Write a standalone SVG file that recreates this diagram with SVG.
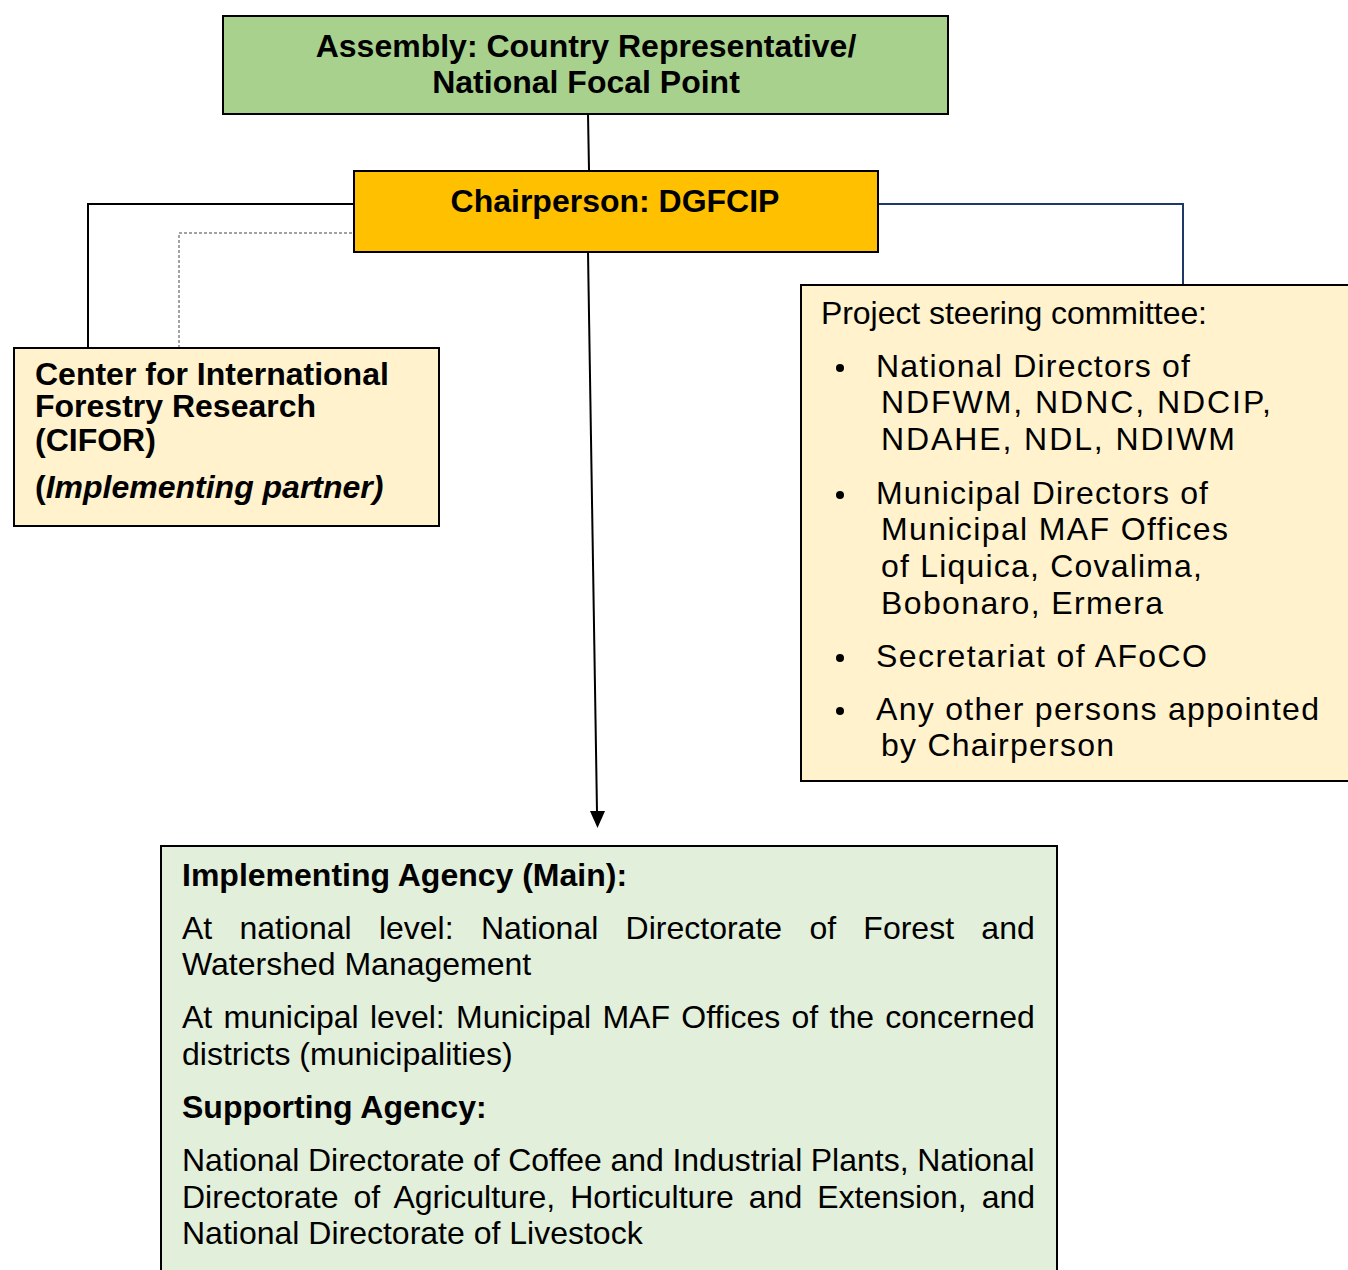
<svg xmlns="http://www.w3.org/2000/svg" width="1348" height="1270" viewBox="0 0 1348 1270">
<defs>
<style>
.box{stroke:#000;stroke-width:2}
.t{font-family:"Liberation Sans",Arial,sans-serif;font-size:32px;fill:#000}
.b{font-weight:bold}
.ln{fill:none;stroke:#000;stroke-width:2}
.bul{fill:#000}
</style>
</defs>
<rect width="1348" height="1270" fill="#fff"/>
<g id="connectors">
<line class="ln" x1="588" y1="114" x2="589" y2="170"/>
<polyline class="ln" points="353,204 88,204 88,347"/>
<polyline fill="none" stroke="#444" stroke-width="1" stroke-dasharray="3,2" points="357,233 179,233 179,347"/>
<polyline fill="none" stroke="#1f3864" stroke-width="2" points="878,204 1183,204 1183,284"/>
<line class="ln" x1="588" y1="252" x2="597" y2="812"/>
<path d="M590,811 L605,811 L597.5,828 Z" fill="#000"/>
</g>
<g id="assembly">
<rect class="box" x="223" y="16" width="725" height="98" fill="#a9d18e"/>
<text class="t b" x="586" y="57" text-anchor="middle">Assembly: Country Representative/</text>
<text class="t b" x="586" y="93" text-anchor="middle">National Focal Point</text>
</g>
<g id="chair">
<rect class="box" x="354" y="171" width="524" height="81" fill="#ffc000"/>
<text class="t b" x="615" y="212" text-anchor="middle">Chairperson: DGFCIP</text>
</g>
<g id="cifor">
<rect class="box" x="14" y="348" width="425" height="178" fill="#fff2cc"/>
<text class="t b" x="35" y="385">Center for International</text>
<text class="t b" x="35" y="417">Forestry Research</text>
<text class="t b" x="35" y="451">(CIFOR)</text>
<text class="t b" x="35" y="498">(<tspan font-style="italic">Implementing partner)</tspan></text>
</g>
<g id="psc">
<rect class="box" x="801" y="285" width="560" height="496" fill="#fff2cc"/>
<text class="t" x="821" y="324" textLength="386">Project steering committee:</text>
<circle class="bul" cx="840" cy="368" r="4"/>
<text class="t" x="876" y="377" textLength="314">National Directors of</text>
<text class="t" x="881" y="413" textLength="390">NDFWM, NDNC, NDCIP,</text>
<text class="t" x="881" y="450" textLength="354">NDAHE, NDL, NDIWM</text>
<circle class="bul" cx="840" cy="495" r="4"/>
<text class="t" x="876" y="504" textLength="332">Municipal Directors of</text>
<text class="t" x="881" y="540" textLength="347">Municipal MAF Offices</text>
<text class="t" x="881" y="577" textLength="321">of Liquica, Covalima,</text>
<text class="t" x="881" y="614" textLength="282">Bobonaro, Ermera</text>
<circle class="bul" cx="840" cy="658" r="4"/>
<text class="t" x="876" y="667" textLength="331">Secretariat of AFoCO</text>
<circle class="bul" cx="840" cy="711" r="4"/>
<text class="t" x="876" y="720" textLength="443">Any other persons appointed</text>
<text class="t" x="881" y="756" textLength="233">by Chairperson</text>
</g>
<g id="agency">
<rect class="box" x="161" y="846" width="896" height="440" fill="#e2efda"/>
<text class="t b" x="182" y="886">Implementing Agency (Main):</text>
<text class="t" x="182" y="939" word-spacing="18.4">At national level: National Directorate of Forest and</text>
<text class="t" x="182" y="975">Watershed Management</text>
<text class="t" x="182" y="1028" word-spacing="2.4">At municipal level: Municipal MAF Offices of the concerned</text>
<text class="t" x="182" y="1065">districts (municipalities)</text>
<text class="t b" x="182" y="1118">Supporting Agency:</text>
<text class="t" x="182" y="1171" word-spacing="-0.35">National Directorate of Coffee and Industrial Plants, National</text>
<text class="t" x="182" y="1208" word-spacing="6.1">Directorate of Agriculture, Horticulture and Extension, and</text>
<text class="t" x="182" y="1244">National Directorate of Livestock</text>
</g>
</svg>
